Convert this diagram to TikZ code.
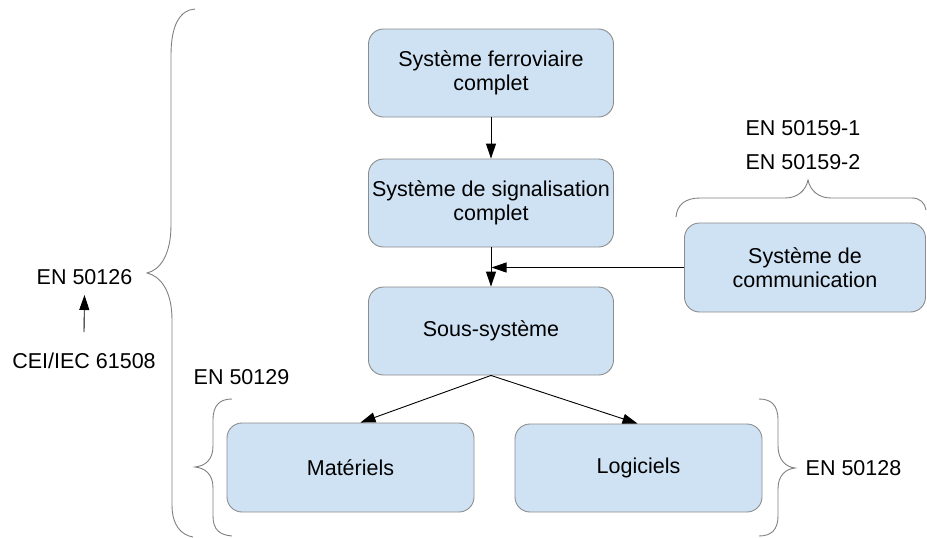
\documentclass[tikz,border=0pt]{standalone}
\usepackage{fontspec}
\setmainfont{Liberation Sans}
\usetikzlibrary{arrows.meta}
\definecolor{boxfill}{HTML}{CFE2F3}
\definecolor{boxline}{HTML}{8C8C8C}
\definecolor{braceline}{HTML}{808080}
\tikzset{
  blk/.style={draw=boxline, line width=0.9pt, fill=boxfill, rounded corners=15pt,
    align=center, inner sep=0pt, font=\fontsize{21.5}{24}\selectfont},
  lbl/.style={anchor=base, inner sep=0pt, font=\fontsize{21.5}{24}\selectfont},
  conn/.style={line width=0.9pt, -{Triangle[length=15pt,width=10pt]}},
  brc/.style={draw=braceline, line width=0.9pt}
}
\begin{document}
\begin{tikzpicture}[x=1pt,y=-1pt]
\useasboundingbox (0,0) rectangle (927,538);
% boxes
\node[blk, minimum width=245pt, minimum height=88pt] (b1) at (491,73) {Système ferroviaire\\complet};
\node[blk, minimum width=245pt, minimum height=88pt] (b2) at (491,203) {Système de signalisation\\complet};
\node[blk, minimum width=245pt, minimum height=88pt] (b3) at (491,331) {Sous-système};
\node[blk, minimum width=241pt, minimum height=89pt] (comm) at (805,267.5) {Système de\\communication};
\node[blk, minimum width=247pt, minimum height=89pt] (mat) at (350.5,467.5) {Matériels};
\node[blk, minimum width=247pt, minimum height=88pt] (log) at (638.5,468) {Logiciels};
% labels
\node[lbl] (en126) at (84.5,284) {EN 50126};
\node[lbl] (cei) at (84,368) {CEI/IEC 61508};
\node[lbl] (en129) at (241.5,384) {EN 50129};
\node[lbl] (en128) at (853.5,475) {EN 50128};
\node[lbl] (en1591) at (803,135) {EN 50159-1};
\node[lbl] (en1592) at (803,169) {EN 50159-2};
% connectors
\draw[conn] (b1.south) -- (b2.north);
\draw[conn] (b2.south) -- (b3.north);
\coordinate (join) at (b2.south |- comm.west);
\draw[conn] (comm.west) -- ([xshift=0.5pt]join);
\draw[conn] (b3.south) -- ([xshift=10pt]mat.north);
\draw[conn] (b3.south) -- ([xshift=-1pt]log.north);
\draw[conn] ([yshift=36pt]cei.base) -- ([yshift=-11pt]en126.base);
% braces
\draw[brc] (195,9) .. controls (180,10) and (171,25) .. (171,55) -- (171,225)
  .. controls (171,255) and (160,270) .. (147,273)
  .. controls (160,276) and (172,290) .. (172,320) -- (172,505)
  .. controls (172,525) and (181,535) .. (193,537);
\draw[brc] (232,399) .. controls (220,399) and (213,405) .. (213,420) -- (213,446)
  .. controls (213,460) and (205,466) .. (195,467)
  .. controls (205,468) and (213,474) .. (213,488) -- (213,516)
  .. controls (213,530) and (220,535) .. (232,536);
\draw[brc] (759,399) .. controls (771,399) and (778,405) .. (778,420) -- (778,446)
  .. controls (778,460) and (786,467) .. (795,468)
  .. controls (786,469) and (778,475) .. (778,489) -- (778,516)
  .. controls (778,530) and (771,536) .. (759,536);
\draw[brc] (676,217) .. controls (677,205) and (685,198) .. (700,198) -- (785,198)
  .. controls (798,198) and (806,190) .. (808,180)
  .. controls (810,190) and (818,198) .. (831,198) -- (912,198)
  .. controls (920,198) and (925,203) .. (926,210);
\end{tikzpicture}
\end{document}
